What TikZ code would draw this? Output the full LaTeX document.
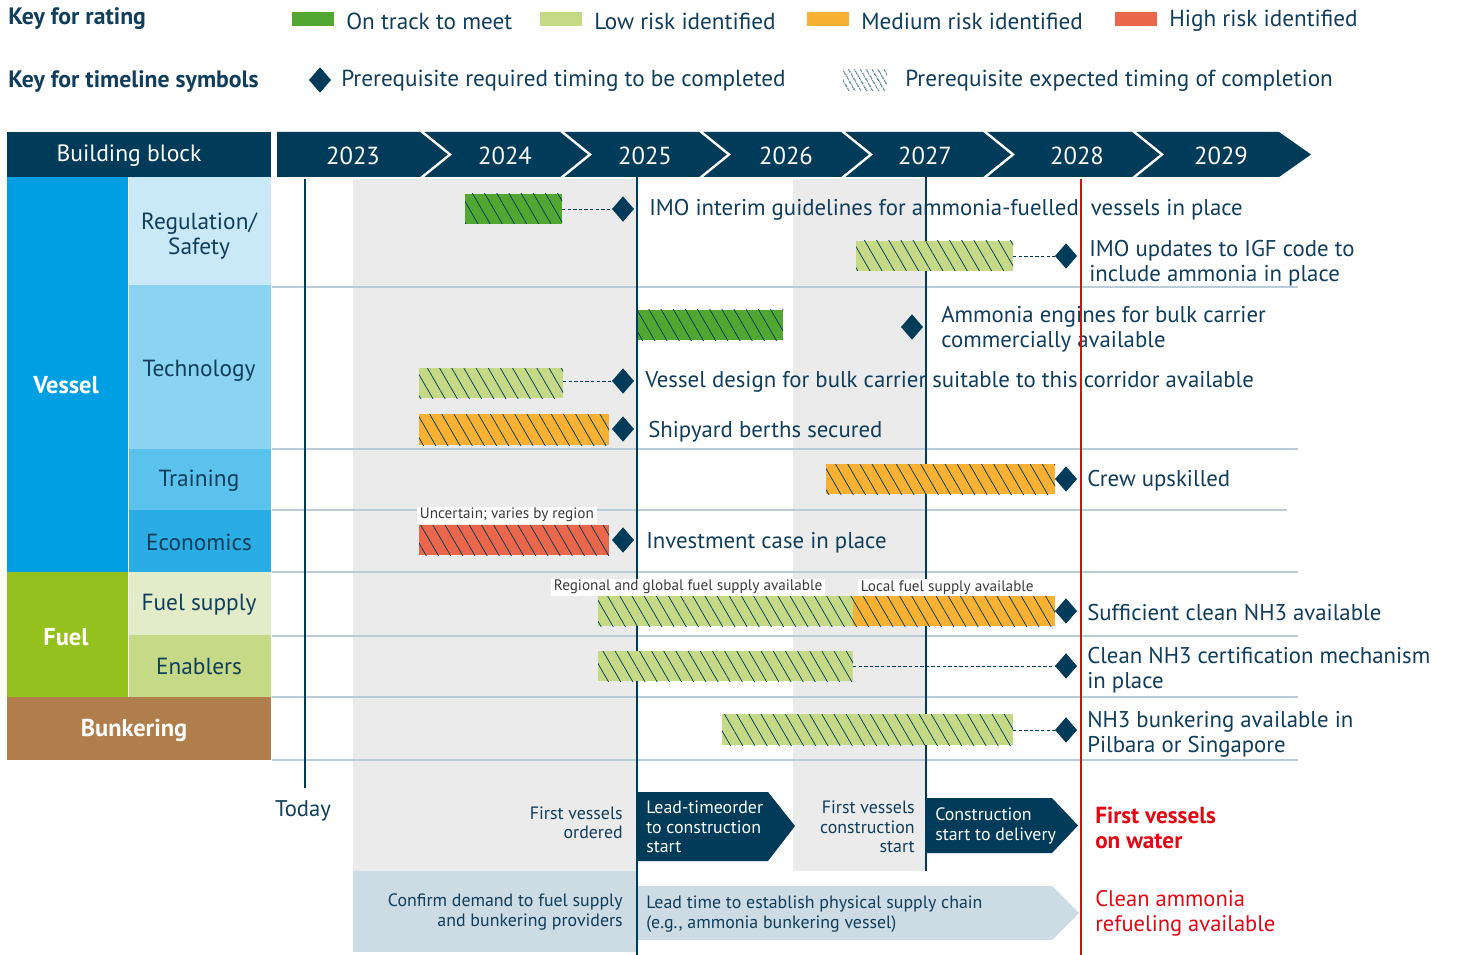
\documentclass[tikz,border=0pt]{standalone}
\usepackage{fontspec}
\setmainfont{PT Sans}
\usetikzlibrary{shapes.geometric,patterns.meta,fit}
\definecolor{navy}{HTML}{003B5A}
\definecolor{txt}{HTML}{0F3D5B}
\definecolor{smalltxt}{HTML}{3A3A3A}
\definecolor{ontrack}{HTML}{52A733}
\definecolor{lowrisk}{HTML}{C5D987}
\definecolor{medrisk}{HTML}{F8B133}
\definecolor{highrisk}{HTML}{EA674B}
\definecolor{redl}{HTML}{E30613}
\definecolor{shadeg}{HTML}{EBEBEB}
\definecolor{sepl}{HTML}{BACCD7}
\definecolor{vessel}{HTML}{009FE3}
\definecolor{regul}{HTML}{C9E9F9}
\definecolor{techn}{HTML}{8AD3F2}
\definecolor{train}{HTML}{5BC2ED}
\definecolor{econ}{HTML}{2AADE4}
\definecolor{fuelc}{HTML}{95C11F}
\definecolor{fsup}{HTML}{E3ECC8}
\definecolor{enab}{HTML}{C5D987}
\definecolor{bunk}{HTML}{B07E4B}
\definecolor{paleblue}{HTML}{CDDCE4}
\tikzset{
  hbar/.style={inner sep=0, outer sep=0, draw=none, preaction={fill=#1},
    pattern={Lines[angle=-60,distance=7.9pt,line width=0.55pt]}, pattern color=navy},
  hleg/.style={inner sep=0, outer sep=0, draw=none,
    pattern={Lines[angle=-60,distance=4pt,line width=0.7pt]}, pattern color=navy},
  swatch/.style={inner sep=0, outer sep=0, draw=none, fill=#1},
  dia/.style={diamond, fill=navy, inner sep=0, outer sep=0, minimum width=16.5pt, minimum height=19pt},
  dashl/.style={navy, line width=0.7pt, dash pattern=on 2.6pt off 1.6pt},
  lgd/.style={anchor=west, inner sep=0, text=txt, font=\fontsize{17.4}{20}\selectfont},
  keyt/.style={anchor=west, inner sep=0, text=txt, font=\bfseries\fontsize{17.8}{20}\selectfont},
  lbl/.style={anchor=west, inner sep=0, text=txt, align=left, font=\fontsize{17.1}{18.75}\selectfont},
  smalll/.style={anchor=south west, inner xsep=2pt, inner ysep=1.2pt, fill=white, text=smalltxt, font=\fontsize{11.4}{12}\selectfont},
  bot/.style={inner sep=0, text=txt, font=\fontsize{13.4}{14.6}\selectfont},
  botw/.style={inner sep=0, text=white, align=left, anchor=west, font=\fontsize{13.4}{14.6}\selectfont},
  yr/.style={inner sep=0, text=white, font=\fontsize{18.5}{20}\selectfont},
  cellbox/.style={inner sep=0, outer sep=0, draw=none, fill=#1},
  celltxt/.style={inner sep=0, text=txt, align=center, font=\fontsize{17.5}{18.75}\selectfont},
  celltxtw/.style={inner sep=0, text=white, align=center, font=\bfseries\fontsize{18.3}{20}\selectfont},
  redt/.style={anchor=west, inner sep=0, text=redl, align=left, font=\fontsize{16.9}{18.75}\selectfont},
  sepline/.style={sepl, line width=1.4pt},
  vline/.style={navy, line width=2pt},
}
\begin{document}
\begin{tikzpicture}[x=0.75pt,y=-0.75pt]
\useasboundingbox (0,0) rectangle (1458,955);
% ---------- legend ----------
\node[keyt] (keyrating) at (8,19) {Key for rating};
\node[swatch=ontrack, fit={(292,12)(334,26)}] (sw1) {};
\node[lgd] (lg1) at (346,21) {On track to meet};
\node[swatch=lowrisk, fit={(540,12)(582,26)}] (sw2) {};
\node[lgd] (lg2) at (594,21) {Low risk identified};
\node[swatch=medrisk, fit={(807,12)(849,26)}] (sw3) {};
\node[lgd] (lg3) at (861,21) {Medium risk identified};
\node[swatch=highrisk, fit={(1115,12)(1157,26)}] (sw4) {};
\node[lgd] (lg4) at (1169,21) {High risk identified};
\node[keyt] (keytime) at (8,81) {Key for timeline symbols};
\node[dia] (lgdia) at (320,80) {};
\node[lgd] (lg5) at (341,81) {Prerequisite required timing to be completed};
\node[hleg, fit={(843,70)(887,91)}] (lghatch) {};
\node[lgd] (lg6) at (905,81) {Prerequisite expected timing of completion};
% ---------- header ----------
\node[cellbox=navy, fit={(7,132)(271,177)}] (bb) {};
\node[inner sep=0, text=white, font=\fontsize{17.7}{20}\selectfont] (bbt) at (129,156) {Building block};
\fill[navy] (277,132) -- (1279,132) -- (1311,154.5) -- (1279,177) -- (277,177) -- cycle;
\foreach \xx in {421,561,700,842,984,1133}
  \draw[white, line width=1.8pt] (\xx,131) -- (\xx+29,154.5) -- (\xx,178);
\node[yr] (y2023) at (353,156) {2023};
\node[yr] (y2024) at (505,156) {2024};
\node[yr] (y2025) at (645,156) {2025};
\node[yr] (y2026) at (786,156) {2026};
\node[yr] (y2027) at (925,156) {2027};
\node[yr] (y2028) at (1077,156) {2028};
\node[yr] (y2029) at (1221,156) {2029};
% ---------- left column ----------
\node[cellbox=vessel, fit={(7,177)(128,572)}] (vessel) {};
\node[celltxtw] (vesselt) at (66,385) {Vessel};
\node[cellbox=regul, fit={(129,177)(271,285)}] (regul) {};
\node[celltxt] (regult) at (199,236) {Regulation/\\Safety};
\node[cellbox=techn, fit={(129,285)(271,449)}] (techn) {};
\node[celltxt] (techt) at (199,371) {Technology};
\node[cellbox=train, fit={(129,449)(271,510)}] (train) {};
\node[celltxt] (traint) at (199,481) {Training};
\node[cellbox=econ, fit={(129,510)(271,572)}] (econ) {};
\node[celltxt] (econt) at (199,542) {Economics};
\node[cellbox=fuelc, fit={(7,572)(128,697)}] (fuel) {};
\node[celltxtw] (fuelt) at (66,637) {Fuel};
\node[cellbox=fsup, fit={(129,572)(271,635)}] (fsup) {};
\node[celltxt] (fsupt) at (199,605) {Fuel supply};
\node[cellbox=enab, fit={(129,635)(271,697)}] (enab) {};
\node[celltxt] (enabt) at (199,666) {Enablers};
\node[cellbox=bunk, fit={(7,697)(271,760)}] (bunk) {};
\node[celltxtw] (bunkt) at (134,730) {Bunkering};
% ---------- shaded periods ----------
\fill[shadeg] (353,179) rectangle (637,871);
\fill[shadeg] (793,179) rectangle (926,871);
\fill[paleblue] (353,871) rectangle (637,952);
% ---------- separators ----------
\foreach \yy in {287,449,572,636,697,760}
  \draw[sepline] (272,\yy) -- (1298,\yy);
\draw[sepline] (272,510) -- (1287,510);
% ---------- milestone texts ----------
\node[lbl] (t1) at (649,210) {IMO interim guidelines for ammonia-fuelled\ \ vessels in place};
\node[lbl] (t2) at (1089,263) {IMO updates to IGF code to\\include ammonia in place};
\node[lbl] (t3) at (941,329) {Ammonia engines for bulk carrier\\commercially available};
\node[lbl] (t4) at (645,382) {Vessel design for bulk carrier suitable to this corridor available};
\node[lbl] (t5) at (648,432) {Shipyard berths secured};
\node[lbl] (t6) at (1087,481) {Crew upskilled};
\node[lbl] (t7) at (646,543) {Investment case in place};
\node[lbl] (t8) at (1087,613) {Sufficient clean NH3 available};
\node[lbl] (t9) at (1087,670) {Clean NH3 certification mechanism\\in place};
\node[lbl] (t10) at (1087,734) {NH3 bunkering available in\\Pilbara or Singapore};
% ---------- vertical lines ----------
\draw[vline, line width=2.2pt] (305,179) -- (305,788);
\draw[vline] (637,177) -- (637,955);
\draw[vline] (926,177) -- (926,871);
\draw[redl, line width=2pt] (1081,179) -- (1081,955);
% ---------- bars ----------
\node[hbar=ontrack, fit={(465,194)(562,224)}] (b1) {};
\node[hbar=lowrisk, fit={(856,241)(1013,271)}] (b2) {};
\node[hbar=ontrack, fit={(638,310)(783,340)}] (b3) {};
\node[hbar=lowrisk, fit={(419,368)(563,398)}] (b4) {};
\node[hbar=medrisk, fit={(419,414)(609,445)}] (b5) {};
\node[hbar=medrisk, fit={(826,464)(1055,494)}] (b6) {};
\node[hbar=highrisk, fit={(419,525)(609,555)}] (b7) {};
\node[hbar=lowrisk, fit={(598,596)(853,626)}] (b8a) {};
\node[hbar=medrisk, fit={(853,596)(1055,626)}] (b8b) {};
\node[hbar=lowrisk, fit={(598,651)(853,681)}] (b9) {};
\node[hbar=lowrisk, fit={(722,714)(1013,745)}] (b10) {};
% small labels
\node[smalll] (l7) at (417,524) {Uncertain; varies by region};
\node[smalll] (l8a) at (551,596) {Regional and global fuel supply available};
\node[smalll] (l8b) at (858,596) {Local fuel supply available};
% ---------- diamonds ----------
\node[dia] (d1) at (623,209) {};
\node[dia] (d2) at (1066,256) {};
\node[dia] (d3) at (912,327) {};
\node[dia] (d4) at (623,381) {};
\node[dia] (d5) at (623,429) {};
\node[dia] (d6) at (1066,479) {};
\node[dia] (d7) at (623,540) {};
\node[dia] (d8) at (1066,611) {};
\node[dia] (d9) at (1066,666) {};
\node[dia] (d10) at (1066,730) {};
% dashed connectors
\draw[dashl] (b1.east) -- (d1.west);
\draw[dashl] (b2.east) -- (d2.west);
\draw[dashl] (b4.east |- d4.west) -- (d4.west);
\draw[dashl] (b9.east) -- (d9.west);
\draw[dashl] (b10.east |- d10.west) -- (d10.west);
% ---------- bottom ----------
\node[bot, font=\fontsize{17}{18}\selectfont] (today) at (303,811) {Today};
\node[bot, anchor=east, align=right] (fvo) at (623,823) {First vessels\\ordered};
\fill[navy] (638,792) -- (768,792) -- (795,826) -- (768,861) -- (638,861) -- cycle;
\node[botw] (lead1) at (646,827) {Lead-timeorder\\to construction\\start};
\node[bot, anchor=east, align=right] (fvc) at (915,827) {First vessels\\construction\\start};
\fill[navy] (927,798) -- (1052,798) -- (1078,825.5) -- (1052,853) -- (927,853) -- cycle;
\node[botw] (lead2) at (935,826) {Construction\\start to delivery};
\node[redt, font=\bfseries\fontsize{17.4}{18.75}\selectfont] (fvw) at (1095,828) {First vessels\\on water};
\node[bot, anchor=east, align=right] (conf) at (623,912) {Confirm demand to fuel supply\\and bunkering providers};
\fill[paleblue] (638,886) -- (1052,886) -- (1079,913) -- (1052,940) -- (638,940) -- cycle;
\node[bot, anchor=west, align=left] (lead3) at (646,914) {Lead time to establish physical supply chain\\(e.g., ammonia bunkering vessel)};
\node[redt] (clean) at (1095,913) {Clean ammonia\\refueling available};
\end{tikzpicture}
\end{document}
